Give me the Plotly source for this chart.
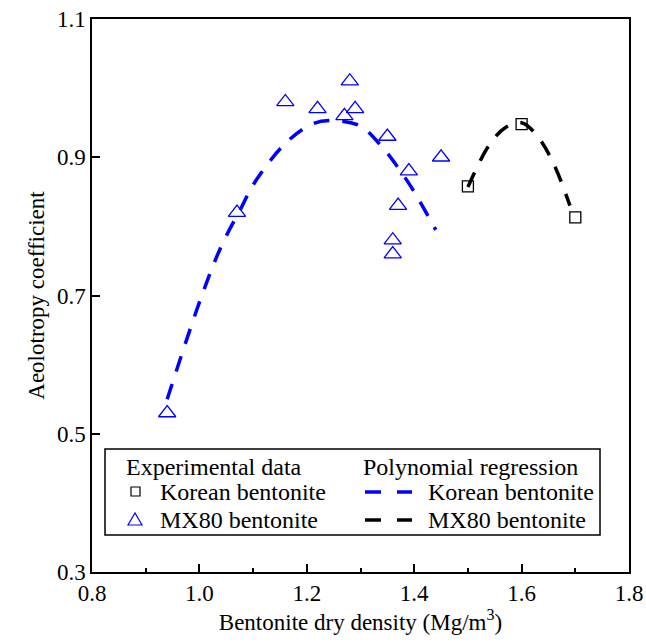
import plotly.graph_objects as go

# ---- data ----
mx80_x = [0.94, 1.07, 1.16, 1.22, 1.27, 1.28, 1.29, 1.35, 1.39, 1.37, 1.36, 1.36, 1.45]
mx80_y = [0.53, 0.82, 0.98, 0.97, 0.96, 1.01, 0.97, 0.93, 0.88, 0.83, 0.78, 0.76, 0.90]

korean_x = [1.50, 1.60, 1.70]
korean_y = [0.858, 0.948, 0.813]

fit_blue_x = [0.94, 1.00, 1.04, 1.08, 1.10, 1.16, 1.21, 1.25, 1.30, 1.34, 1.37, 1.40, 1.44]
fit_blue_y = [0.55, 0.69, 0.77, 0.83, 0.86, 0.92, 0.948, 0.953, 0.945, 0.915, 0.885, 0.85, 0.795]

fit_black_x = [1.50, 1.54, 1.57, 1.60, 1.63, 1.66, 1.69]
fit_black_y = [0.857, 0.918, 0.943, 0.950, 0.930, 0.89, 0.83]

x_ticks = [0.8, 1.0, 1.2, 1.4, 1.6, 1.8]
y_ticks = [0.3, 0.5, 0.7, 0.9, 1.1]

FONT = "Liberation Serif"
W, H = 646, 643
L, R, T, B = 92, 17, 19, 71

fig = go.Figure()
fig.add_trace(go.Scatter(x=fit_blue_x, y=fit_blue_y, mode="lines",
                         line=dict(color="#0000FF", width=3.5, dash="16px,13px", shape="spline"),
                         showlegend=False))
fig.add_trace(go.Scatter(x=fit_black_x, y=fit_black_y, mode="lines",
                         line=dict(color="#000000", width=3.5, dash="16px,13px", shape="spline"),
                         showlegend=False))
fig.add_trace(go.Scatter(x=mx80_x, y=mx80_y, mode="markers",
                         marker=dict(symbol="triangle-up-open", size=15, color="#0000FF",
                                     line=dict(width=1.3, color="#0000FF")),
                         showlegend=False))
fig.add_trace(go.Scatter(x=korean_x, y=korean_y, mode="markers",
                         marker=dict(symbol="square-open", size=11, color="#000000",
                                     line=dict(width=1.3, color="#000000")),
                         showlegend=False))


def px(xp):
    return (xp - L) / (W - L - R)


def py(yp):
    return (H - B - yp) / (H - T - B)


shapes = []
annotations = []
# legend box
shapes.append(dict(type="rect", xref="paper", yref="paper",
                   x0=px(105), x1=px(600), y0=py(535), y1=py(449),
                   line=dict(color="black", width=1.5), fillcolor="white"))
fs_leg = 24
fs_tick = 23
fs_title = 23


def txt(text, x, y):
    annotations.append(dict(text=text, xref="paper", yref="paper", x=px(x), y=py(y),
                            xanchor="left", yanchor="middle", showarrow=False,
                            font=dict(family=FONT, size=fs_leg, color="black")))


txt("Experimental data", 124, 467)
txt("Korean bentonite", 158, 492)
txt("MX80 bentonite", 158, 520)
txt("Polynomial regression", 361, 467)
txt("Korean bentonite", 426, 492)
txt("MX80 bentonite", 426, 520)

# legend marker samples
shapes.append(dict(type="rect", xref="paper", yref="paper",
                   x0=px(131), x1=px(140), y0=py(496), y1=py(487),
                   line=dict(color="black", width=1.2)))
shapes.append(dict(type="path", xref="paper", yref="paper",
                   path=f"M {px(128)} {py(525)} L {px(142)} {py(525)} L {px(135)} {py(513)} Z",
                   line=dict(color="#0000FF", width=1.2)))
for (x0, x1) in [(365, 381), (397, 412)]:
    shapes.append(dict(type="line", xref="paper", yref="paper",
                       x0=px(x0), x1=px(x1), y0=py(492), y1=py(492),
                       line=dict(color="#0000FF", width=3.5)))
    shapes.append(dict(type="line", xref="paper", yref="paper",
                       x0=px(x0), x1=px(x1), y0=py(520), y1=py(520),
                       line=dict(color="black", width=3.5)))

fig.update_layout(
    width=W, height=H,
    margin=dict(l=L, r=R, t=T, b=B, autoexpand=False),
    paper_bgcolor="white", plot_bgcolor="white",
    font=dict(family=FONT, size=fs_tick, color="black"),
    shapes=shapes, annotations=annotations,
    showlegend=False,
)
fig.update_xaxes(range=[0.8, 1.8], tickvals=x_ticks, ticktext=[f"{v:.1f}" for v in x_ticks],
                 ticks="inside", ticklen=8, tickwidth=1.5, tickcolor="black",
                 minor=dict(ticks="inside", ticklen=4, tickwidth=1.5, tickcolor="black", dtick=0.1, tick0=0.8),
                 showline=True, linecolor="black", linewidth=1.5, mirror=True,
                 showgrid=False, zeroline=False, automargin=False,
                 tickfont=dict(family=FONT, size=fs_tick, color="black"),
                 title=dict(text="Bentonite dry density (Mg/m<sup>3</sup>)",
                            font=dict(family=FONT, size=fs_title, color="black"), standoff=4))
fig.update_yaxes(range=[0.3, 1.1], tickvals=y_ticks, ticktext=[f"{v:.1f}" for v in y_ticks],
                 ticks="inside", ticklen=8, tickwidth=1.5, tickcolor="black",
                 showline=True, linecolor="black", linewidth=1.5, mirror=True,
                 showgrid=False, zeroline=False, automargin=False,
                 tickfont=dict(family=FONT, size=fs_tick, color="black"),
                 title=dict(text="Aeolotropy coefficient",
                            font=dict(family=FONT, size=fs_title, color="black"), standoff=6))

post = (
    "var s=document.createElement('style');"
    "s.textContent=\"svg text{font-family:'Liberation Serif','Times New Roman',Tinos,serif !important;}\";"
    "document.head.appendChild(s);"
    "var gd=document.getElementById('{plot_id}');"
    "Plotly.redraw(gd);"
)

fig.write_html("out.html", post_script=post)
